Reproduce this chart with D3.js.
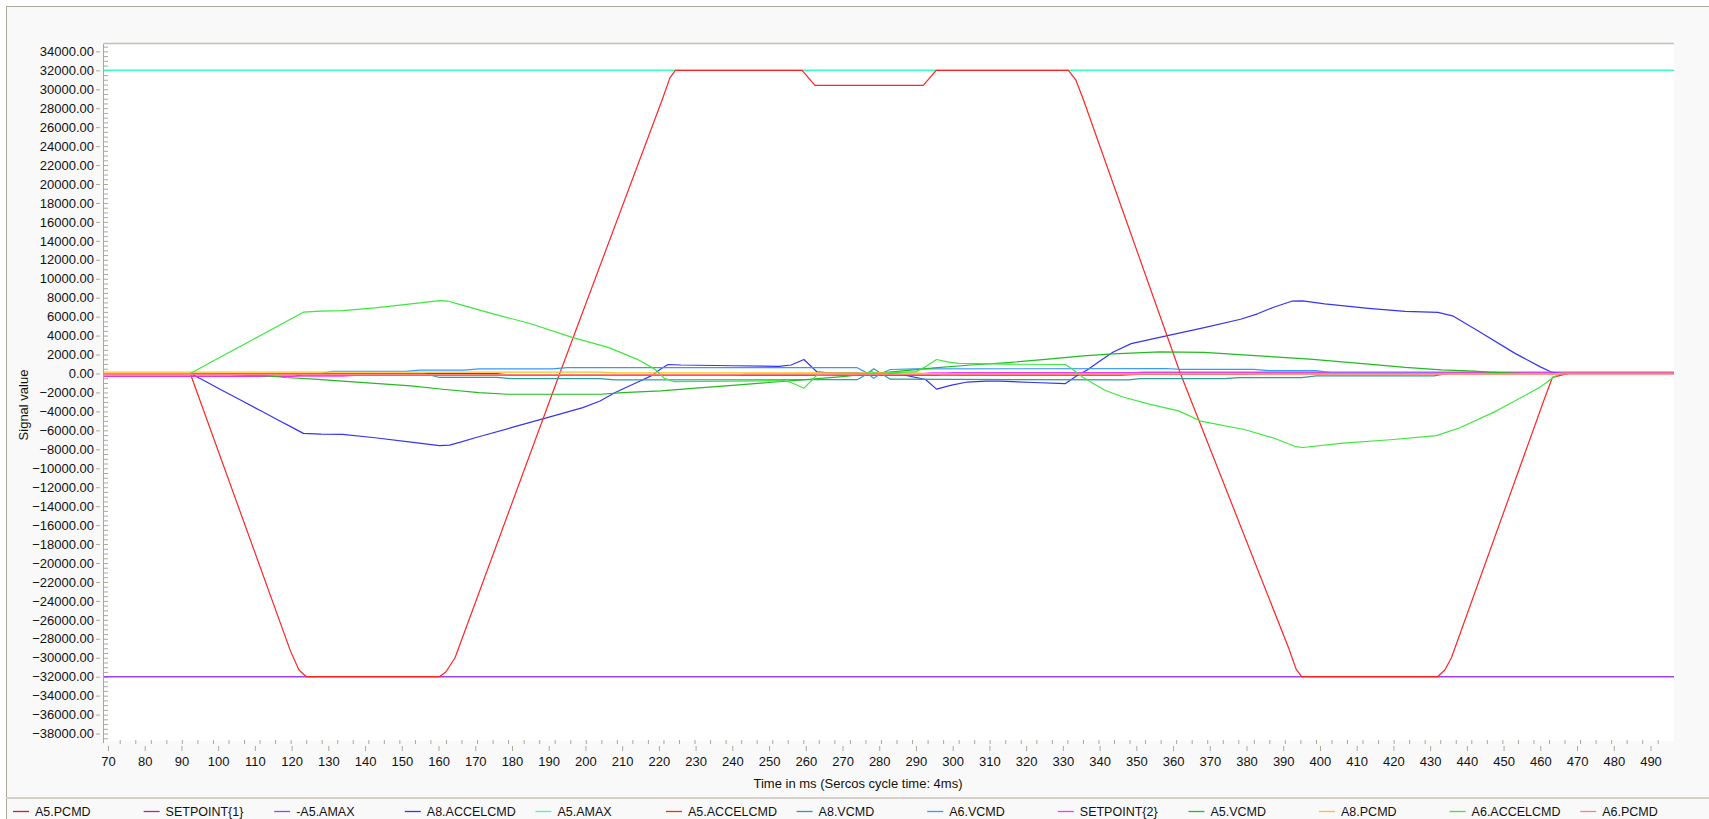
<!DOCTYPE html>
<html lang="en">
<head>
<meta charset="UTF-8">
<title>Signal trace</title>
<script src="https://cdn.jsdelivr.net/npm/d3@7"></script>
<style>
  body { margin: 0; background: #ffffff; font-family: "Liberation Sans", Arial, sans-serif; }
  .axis text { font-family: "Liberation Sans", Arial, sans-serif; font-size: 13px; fill: #111; }
  .axis line { stroke: #aca899; }
  .axis path { display: none; }
</style>
</head>
<body>
<svg id="chart" width="1709" height="819"></svg>
<script>
// time range shown (ms) and value range shown
const tMin = 68.78, tMax = 496.4;
const vMax = 34776, vMin = -38786;

// axis ticks
const xTicks = d3.range(70, 491, 10);
const xMinorTicks = d3.range(73.2, 496, 4.23);
const yTicks = d3.range(-38000, 34001, 2000);
const yMinorTicks = d3.range(-38500, 34501, 500);

// series, [time ms, value]
const A5_PCMD = [[68.8,0],[176,0],[180,-180],[346,-180],[350,-90],[380,-90],[384,0],[496.4,0]];
const SETPOINT1 = [[68.8,-300],[120,-300],[123,-180],[296,-180],[300,80],[496.4,80]];
const NEG_A5_AMAX = [[68.8,-32000],[496.4,-32000]];
const A8_ACCELCMD = [[68.8,0],[92.4,0],[96,-720],[100,-1560],[106.6,-2910],[112,-4020],[116.3,-4900],[120,-5660],[123.2,-6320],[128,-6400],[133.9,-6430],[142.7,-6780],[152.5,-7240],[160.3,-7620],[163,-7560],[166,-7250],[170,-6780],[179.8,-5720],[189.6,-4660],[199.3,-3600],[204,-2900],[208.1,-2010],[214,-950],[217.9,-250],[220.6,500],[222.5,950],[226,900],[240,820],[252.7,750],[256,900],[259.5,1480],[263,180],[266,80],[274,70],[276,0],[278,-150],[280,100],[283,0],[286,-100],[292.6,-630],[295.6,-1650],[299.7,-1230],[304,-900],[309,-810],[313,-810],[322,-950],[330.6,-1070],[333.6,-290],[336.6,360],[340,1300],[343.6,2250],[348.6,3150],[358.5,4000],[368.5,4840],[378.4,5730],[383,6300],[387.4,6990],[392.3,7630],[395.3,7670],[401.3,7350],[413.2,6880],[423.2,6560],[432.1,6450],[436.1,6090],[443.1,4480],[453,2150],[460,700],[463,150],[466,0],[496.4,0]];
const A5_AMAX = [[68.8,32000],[496.4,32000]];
const A5_ACCELCMD = [[68.8,0],[92.4,0],[119.7,-29300],[122,-31300],[124,-32000],[160.2,-32000],[162,-31500],[164.5,-30000],[193,0],[221,29000],[223,31200],[224.5,32000],[259,32000],[262.5,30400],[292,30400],[295.5,32000],[331.5,32000],[333.5,31000],[335.5,29000],[362,0],[391.5,-29000],[393.5,-31200],[395,-32000],[432,-32000],[434,-31300],[435.8,-30000],[461,-2800],[463.3,-400],[466,-150],[468,0],[496.4,0]];
const A8_VCMD = [[68.8,0],[156,0],[160,-400],[176,-400],[180,-550],[204,-550],[208,-680],[274,-650],[276,-200],[278.5,500],[280.5,0],[283,-600],[348,-680],[351,-540],[374,-540],[378,-430],[395,-430],[399,-250],[431,-250],[435,0],[496.4,0]];
const A6_VCMD = [[68.8,0],[128,0],[131,220],[151,220],[155,360],[167,360],[171,490],[191,490],[195,620],[274,610],[276,200],[278.5,-500],[280.5,0],[283,420],[290,480],[358,530],[362,430],[382,430],[386,300],[399,300],[403,100],[430,100],[434,0],[496.4,0]];
const SETPOINT2 = [[68.8,-280],[134,-280],[138,-170],[240,-170],[244,-60],[290,-60],[294,70],[348,70],[352,160],[496.4,160]];
const A5_VCMD = [[68.8,0],[100,0],[104,-120],[106.6,-180],[113.9,-250],[118.3,-420],[126.1,-600],[133.9,-810],[141.7,-1020],[152.5,-1310],[161.2,-1660],[171,-2010],[178.8,-2190],[204.2,-2190],[210.1,-2010],[220.6,-1840],[230,-1550],[240,-1250],[250,-950],[260,-650],[270,-320],[278,0],[285,230],[295,600],[305,900],[315,1150],[323.7,1430],[335.6,1860],[343.6,2080],[356.5,2290],[368.5,2220],[383.4,1860],[397.3,1510],[413.2,1000],[423.2,640],[433.1,390],[442,250],[446,140],[452,40],[456,0],[496.4,0]];
const A8_PCMD = [[68.8,150],[204,150],[208,60],[290,60],[294,-40],[463,-40],[466,20],[496.4,20]];
const A6_ACCELCMD = [[68.8,0],[92.4,0],[96,760],[100,1600],[106.6,2980],[112.4,4200],[118.3,5440],[123.2,6470],[128,6580],[133.9,6640],[142.7,6930],[152.5,7350],[160.3,7700],[162.7,7630],[165.2,7350],[174.9,6290],[184.7,5300],[196.4,3820],[206.2,2760],[214,1520],[218.9,460],[221.5,-500],[224,-850],[240,-800],[254,-750],[256,-950],[259.5,-1550],[263,-180],[274,-60],[276,0],[278,200],[280,-100],[283,100],[290,200],[292.6,700],[295.6,1480],[299,1200],[301.5,1060],[315,980],[330.6,950],[332.6,470],[334.6,-180],[338,-1000],[341.6,-1790],[346.6,-2510],[353.5,-3230],[361.5,-3940],[367.5,-5020],[379.4,-5910],[387.4,-6810],[393.3,-7710],[395.3,-7810],[406.3,-7350],[419.2,-6990],[431.7,-6560],[438.1,-5730],[448.1,-3940],[460,-1430],[464,-290],[466,0],[496.4,0]];
const A6_PCMD = [[68.8,-90],[100,-90],[104,-120],[300,-120],[304,-60],[496.4,-60]];

const seriesNames = ["A5.PCMD","SETPOINT{1}","-A5.AMAX","A8.ACCELCMD","A5.AMAX","A5.ACCELCMD","A8.VCMD","A6.VCMD","SETPOINT{2}","A5.VCMD","A8.PCMD","A6.ACCELCMD","A6.PCMD"];
const seriesValues = [A5_PCMD, SETPOINT1, NEG_A5_AMAX, A8_ACCELCMD, A5_AMAX, A5_ACCELCMD, A8_VCMD, A6_VCMD, SETPOINT2, A5_VCMD, A8_PCMD, A6_ACCELCMD, A6_PCMD];
const seriesColors = ["#d0202c","#993399","#a040f8","#3535f0","#38ffb8","#ff2424","#339999","#3399ff","#ff33ff","#22bb22","#ffc020","#3ce83c","#ff8080"];

const W = 1709, H = 819;
const plot = { left: 103.5, right: 1674, top: 44, bottom: 741 };

const svg = d3.select("#chart");

// panel backgrounds
svg.append("rect").attr("width", W).attr("height", H).attr("fill", "#ffffff");
svg.append("rect").attr("x", 6.5).attr("y", 6.5).attr("width", W).attr("height", H)
  .attr("fill", "#f9f9f9").attr("stroke", "#aca899").attr("stroke-width", 1);
svg.append("rect").attr("x", plot.left).attr("y", plot.top)
  .attr("width", plot.right - plot.left).attr("height", plot.bottom - plot.top)
  .attr("fill", "#ffffff");
svg.append("line").attr("x1", plot.left).attr("x2", plot.right)
  .attr("y1", plot.top - 0.5).attr("y2", plot.top - 0.5)
  .attr("stroke", "#c4c0b4").attr("stroke-width", 1.6);

const x = d3.scaleLinear().domain([tMin, tMax]).range([plot.left, plot.right]);
const y = d3.scaleLinear().domain([vMax, vMin]).range([plot.top, plot.bottom]);

// y axis
svg.append("line").attr("x1", plot.left).attr("x2", plot.left)
  .attr("y1", plot.top).attr("y2", plot.bottom + 2)
  .attr("stroke", "#aca899");
svg.append("g").attr("class", "axis").attr("transform", "translate(100,0)")
  .call(d3.axisLeft(y).tickValues(yTicks).tickSize(4).tickPadding(2).tickFormat(d3.format(".2f")));
svg.append("g").attr("class", "axis").attr("transform", `translate(${plot.left},0)`)
  .call(d3.axisRight(y).tickValues(yMinorTicks).tickSize(4.5).tickFormat(""));

// x axis
svg.append("g").attr("class", "axis").attr("transform", "translate(0,740)")
  .call(d3.axisBottom(x).tickValues(xMinorTicks).tickSize(4).tickFormat(""));
svg.append("g").attr("class", "axis").attr("transform", "translate(0,746)")
  .call(d3.axisBottom(x).tickValues(xTicks).tickSize(5).tickPadding(6).tickFormat(d3.format("d")));

// axis titles
svg.append("text").attr("x", 858).attr("y", 787.5).attr("text-anchor", "middle")
  .attr("font-size", 13).attr("fill", "#111").text("Time in ms (Sercos cycle time: 4ms)");
svg.append("text").attr("transform", "translate(28,405) rotate(-90)").attr("text-anchor", "middle")
  .attr("font-size", 13).attr("fill", "#111").text("Signal value");

// series
svg.append("clipPath").attr("id", "plotClip").append("rect")
  .attr("x", plot.left + 0.5).attr("y", plot.top)
  .attr("width", plot.right - plot.left - 0.5).attr("height", plot.bottom - plot.top);

const line = d3.line().x(d => x(d[0])).y(d => y(d[1]));
const gLines = svg.append("g").attr("clip-path", "url(#plotClip)");
seriesValues.forEach((s, i) => {
  const isLimit = seriesNames[i].indexOf("AMAX") >= 0;
  gLines.append("path")
    .attr("d", line(s))
    .attr("fill", "none")
    .attr("stroke", seriesColors[i])
    .attr("stroke-width", isLimit ? 1.6 : 1.2)
    .attr("stroke-linejoin", "round");
});

// legend
svg.append("line").attr("x1", 6).attr("x2", W).attr("y1", 798).attr("y2", 798)
  .attr("stroke", "#d4d0c8").attr("stroke-width", 2);
const legend = svg.append("g");
seriesNames.forEach((name, i) => {
  const lx = 13 + i * 130.6;
  legend.append("line").attr("x1", lx).attr("x2", lx + 16)
    .attr("y1", 811.5).attr("y2", 811.5)
    .attr("stroke", seriesColors[i]).attr("stroke-width", 1.3);
  legend.append("text").attr("x", lx + 22).attr("y", 815.8)
    .attr("font-size", 12.5).attr("fill", "#111").text(name);
});
</script>
</body>
</html>
